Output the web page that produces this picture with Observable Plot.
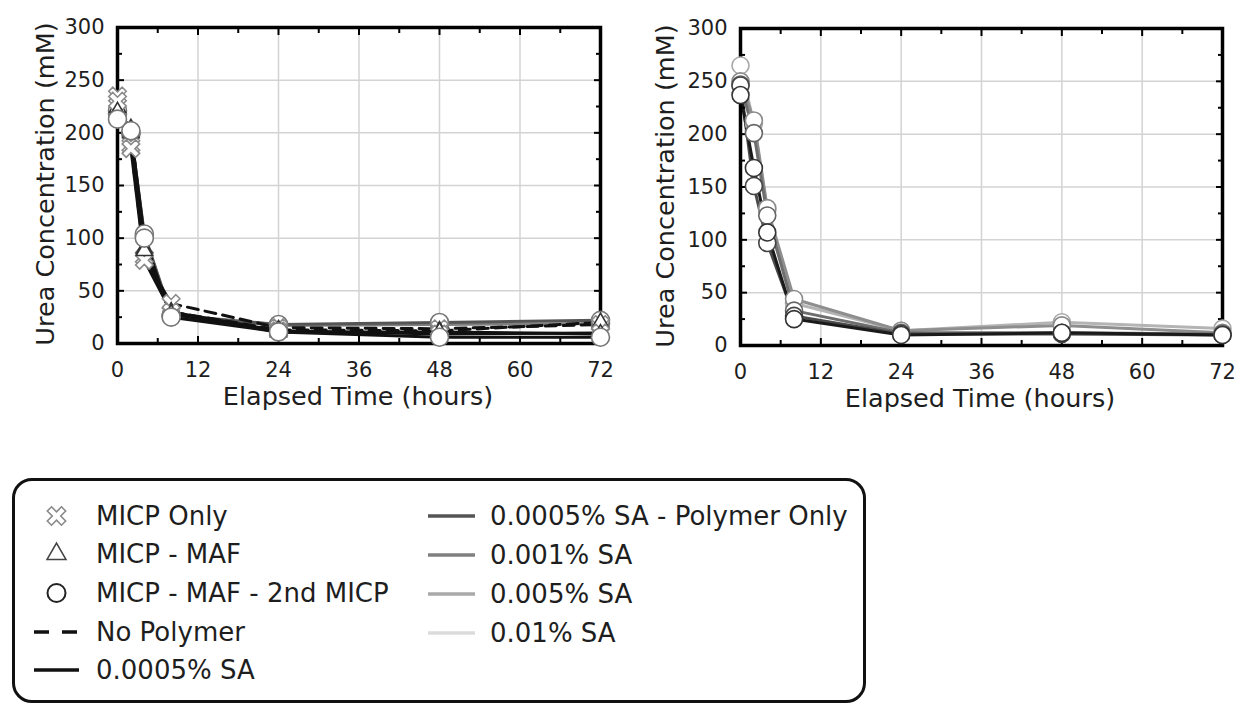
<!DOCTYPE html>
<html>
<head>
<meta charset="utf-8">
<script src="https://cdn.jsdelivr.net/npm/d3@7"></script>
<script src="https://cdn.jsdelivr.net/npm/@observablehq/plot@0.6"></script>
<style>
  html, body { margin: 0; padding: 0; background: #fff; }
  body { font-family: "DejaVu Sans", sans-serif; color: #1e1e1e; }
  #wrap { position: relative; width: 1243px; height: 705px; overflow: hidden; }
  .panel { position: absolute; top: 0; }
  .panel svg { overflow: visible; }
  .title { position: absolute; font-size: 25.5px; white-space: nowrap; transform: translate(-50%, -50%); }
  .ytitle { transform: translate(-50%, -50%) rotate(-90deg); }
  #legend { position: absolute; left: 12px; top: 478px; width: 848px; height: 219px; border: 3px solid #111; border-radius: 20px; }
  .lg { position: absolute; font-size: 26px; line-height: 30px; white-space: nowrap; }
  #swatches { position: absolute; left: 0; top: 0; }
</style>
</head>
<body>
<div id="wrap">
  <div id="left" class="panel" style="left:0px"></div>
  <div id="right" class="panel" style="left:620px"></div>
  <div class="title" style="left:358px; top:396px">Elapsed Time (hours)</div>
  <div class="title" style="left:980px; top:398px">Elapsed Time (hours)</div>
  <div class="title ytitle" style="left:45px; top:184px">Urea Concentration (mM)</div>
  <div class="title ytitle" style="left:665px; top:186px">Urea Concentration (mM)</div>
  <div id="legend"></div>
</div>
<script>
// ---------- data ----------
const hours = [0, 2, 4, 8, 24, 48, 72];
const xTicks = [0, 12, 24, 36, 48, 60, 72];
const xMinor = [6, 18, 30, 42, 54, 66];
const yTicks = [0, 50, 100, 150, 200, 250, 300];
const yMinor = [25, 75, 125, 175, 225, 275];

const treatmentNames = ["MICP Only", "MICP - MAF", "MICP - MAF - 2nd MICP"];
const polymerNames = ["No Polymer", "0.0005% SA", "0.0005% SA - Polymer Only", "0.001% SA", "0.005% SA", "0.01% SA"];
const polymerColors = ["#111111", "#111111", "#555555", "#808080", "#a9a9a9", "#dcdcdc"];
const rightLineColors = ["#111111", "#1a1a1a", "#4a4a4a", "#6e6e6e", "#8e8e8e", "#b4b4b4"];

// Left panel series (urea mM at each hour)
const leftNoPolyOnly   = [235, 188, 82, 38, 15, 14, 18];
const leftNoPolyMAF    = [224, 204, 90, 30, 13, 12, 20];
const leftSAOnly       = [230, 185, 79, 30, 12, 9, 10];
const leftSAMAF        = [220, 200, 88, 28, 11, 11, 9];
const leftSA2nd        = [213, 202, 100, 25, 11, 6, 6];
const leftPolyOnly2nd  = [221, 200, 104, 27, 18, 20, 22];
const left001SA2nd     = [218, 199, 102, 27, 17, 18, 19];

// Right panel series
const right01SA        = [265, 210, 128, 40, 14, 22, 16];
const right005SA       = [250, 213, 130, 44, 14, 19, 12];
const right001SA       = [247, 201, 123, 33, 12, 12, 11];
const rightPolyOnly    = [246, 151, 97, 28, 11, 11, 10];
const rightSA          = [237, 168, 107, 25, 10, 12, 10];

const leftSeries = [
  {values: left001SA2nd, polymer: 3, treatment: 2},
  {values: leftPolyOnly2nd, polymer: 2, treatment: 2},
  {values: leftNoPolyOnly, polymer: 0, treatment: 0},
  {values: leftNoPolyMAF, polymer: 0, treatment: 1},
  {values: leftSAOnly, polymer: 1, treatment: 0},
  {values: leftSAMAF, polymer: 1, treatment: 1},
  {values: leftSA2nd, polymer: 1, treatment: 2}
];
const rightSeries = [
  {values: right01SA, polymer: 5, treatment: 2},
  {values: right005SA, polymer: 4, treatment: 2},
  {values: right001SA, polymer: 3, treatment: 2},
  {values: rightPolyOnly, polymer: 2, treatment: 2},
  {values: rightSA, polymer: 1, treatment: 2}
];

// ---------- symbols ----------
const hollowX = {
  draw(ctx, size) {
    const r = Math.sqrt(size / Math.PI);
    const w = r * 0.3;
    const pts = [[-w,-r],[w,-r],[w,-w],[r,-w],[r,w],[w,w],[w,r],[-w,r],[-w,w],[-r,w],[-r,-w],[-w,-w]];
    const c = Math.SQRT1_2;
    pts.forEach(([x, y], i) => {
      const X = (x - y) * c, Y = (x + y) * c;
      if (i) ctx.lineTo(X, Y); else ctx.moveTo(X, Y);
    });
    ctx.closePath();
  }
};
const treatmentSymbols = [hollowX, "triangle", "circle"];
const treatmentR = [9.5, 6, 9];
const leftMarkerStroke = ["#8a8a8a", "#333333", "#777777"];
const rightMarkerStroke = ["#333", "#333", "#444", "#666", "#8a8a8a", "#a8a8a8"];

function buildPanel(series, cfg) {
  const marks = [
    Plot.gridX(xTicks, {stroke: "#d3d3d3", strokeOpacity: 1, strokeWidth: 1.5}),
    Plot.gridY(yTicks, {stroke: "#d3d3d3", strokeOpacity: 1, strokeWidth: 1.5})
  ];
  for (const s of series) {
    const rows = hours.map((h, i) => ({hour: h, value: s.values[i]}));
    marks.push(Plot.line(rows, {
      x: "hour", y: "value",
      stroke: cfg.lineColors[s.polymer], strokeWidth: 3,
      strokeDasharray: s.polymer === 0 ? "11,7" : null,
      strokeLinejoin: "round"
    }));
  }
  marks.push(Plot.frame({stroke: "#000", strokeWidth: 3.5}));
  // tick labels
  marks.push(Plot.axisX({ticks: xTicks, tickSize: 0, tickPadding: 19, label: null, fontSize: 21}));
  marks.push(Plot.axisY({ticks: yTicks, tickSize: 0, tickPadding: 13, label: null, fontSize: 21}));
  // inward tick marks on all four sides
  const tk = {tickFormat: () => "", label: null, stroke: "#000", strokeWidth: 2};
  for (const anchor of ["bottom", "top"]) {
    marks.push(Plot.axisX({...tk, anchor, ticks: xTicks, tickSize: -7}));
    marks.push(Plot.axisX({...tk, anchor, ticks: xMinor, tickSize: -5}));
  }
  for (const anchor of ["left", "right"]) {
    marks.push(Plot.axisY({...tk, anchor, ticks: yTicks, tickSize: -7}));
    marks.push(Plot.axisY({...tk, anchor, ticks: yMinor, tickSize: -5}));
  }
  for (const s of series) {
    const rows = hours.map((h, i) => ({hour: h, value: s.values[i]}));
    marks.push(Plot.dot(rows, {
      x: "hour", y: "value",
      symbol: treatmentSymbols[s.treatment],
      r: s.treatment === 2 ? cfg.circleR : treatmentR[s.treatment],
      fill: "white",
      stroke: cfg.markerStroke(s),
      strokeWidth: 1.6
    }));
  }
  return Plot.plot({
    width: cfg.width, height: 430,
    marginLeft: cfg.ml, marginRight: cfg.mr, marginTop: cfg.mt, marginBottom: cfg.mb,
    style: {fontFamily: "'DejaVu Sans', sans-serif", fontSize: "21px", color: "#1e1e1e", background: "transparent", overflow: "visible"},
    x: {domain: [0, 72]},
    y: {domain: [0, 300]},
    marks
  });
}

document.getElementById("left").append(buildPanel(leftSeries, {
  width: 620, ml: 117, mr: 20, mt: 27, mb: 87, circleR: 9,
  lineColors: polymerColors,
  markerStroke: s => leftMarkerStroke[s.treatment]
}));
document.getElementById("right").append(buildPanel(rightSeries, {
  width: 623, ml: 120, mr: 21, mt: 28, mb: 85, circleR: 8.5,
  lineColors: rightLineColors,
  markerStroke: s => rightMarkerStroke[s.polymer]
}));

// ---------- legend ----------
const legendCol1 = [
  {label: treatmentNames[0], kind: "sym", t: 0, color: "#8a8a8a"},
  {label: treatmentNames[1], kind: "sym", t: 1, color: "#444"},
  {label: treatmentNames[2], kind: "sym", t: 2, color: "#222"},
  {label: polymerNames[0], kind: "line", p: 0},
  {label: polymerNames[1], kind: "line", p: 1}
];
const legendCol2 = [2, 3, 4, 5].map(p => ({label: polymerNames[p], kind: "line", p}));
const rowY1 = [516, 554, 593, 632, 670];
const rowY2 = [516, 555, 594, 633];

const wrap = document.getElementById("wrap");
const svg = d3.select(wrap).append("svg").attr("id", "swatches").attr("width", 1243).attr("height", 705);

function addItem(item, cy, sx0, sx1, tx) {
  if (item.kind === "sym") {
    const r = item.t === 2 ? 9 : (item.t === 0 ? 10 : 7);
    const type = item.t === 0 ? hollowX : (item.t === 1 ? d3.symbolTriangle : d3.symbolCircle);
    svg.append("path")
      .attr("d", d3.symbol(type, Math.PI * r * r)())
      .attr("transform", `translate(${(sx0 + sx1) / 2},${cy})`)
      .attr("fill", "white").attr("stroke", item.color).attr("stroke-width", item.t === 2 ? 2 : 1.6);
  } else {
    svg.append("line")
      .attr("x1", sx0).attr("x2", sx1).attr("y1", cy).attr("y2", cy)
      .attr("stroke", polymerColors[item.p]).attr("stroke-width", 3.5)
      .attr("stroke-dasharray", item.p === 0 ? "15,13" : null);
  }
  const d = document.createElement("div");
  d.className = "lg";
  d.textContent = item.label;
  d.style.left = tx + "px";
  d.style.top = (cy - 15) + "px";
  wrap.append(d);
}
legendCol1.forEach((it, i) => addItem(it, rowY1[i], 34, 79, 96));
legendCol2.forEach((it, i) => addItem(it, rowY2[i], 428, 475, 490));
</script>
</body>
</html>
